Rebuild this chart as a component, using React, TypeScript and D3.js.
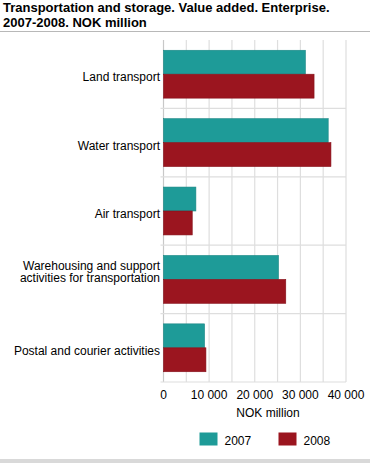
import { useEffect, useRef } from 'react';
import * as d3 from 'd3';

const categories = [
  'Land transport',
  'Water transport',
  'Air transport',
  'Warehousing and support|activities for transportation',
  'Postal and courier activities',
];
const years = ['2007', '2008'];
const values2007 = [31100, 36100, 7100, 25200, 9000];
const values2008 = [33000, 36700, 6300, 26800, 9300];
const tickLabels = [0, 10000, 20000, 30000, 40000];
const gridTicks = [0, 5000, 10000, 15000, 20000, 25000, 30000, 35000, 40000];
const titleLines = ['Transportation and storage. Value added. Enterprise.', '2007-2008. NOK million'];
const axisTitle = 'NOK million';

const colors = ['#1e9b98', '#9b151f'];
const W = 370;
const H = 463;

export default function App() {
  const ref = useRef<SVGSVGElement>(null);

  useEffect(() => {
    const svg = d3.select(ref.current);
    svg.selectAll('*').remove();
    const font = 'Liberation Sans, Arial, sans-serif';

    const left = 163.5;
    const right = 346;
    const top = 40;
    const bottom = 382;

    const x = d3.scaleLinear().domain([0, 40000]).range([left, right]);
    const y0 = d3.scaleBand().domain(categories).range([top, bottom]).paddingInner(0.3).paddingOuter(0.15);
    const step = y0.step();
    const y1 = d3.scaleBand().domain(years).range([0, y0.bandwidth()]);

    // title
    const title = svg.append('text').attr('font-family', font).attr('font-size', 13).attr('font-weight', 'bold').attr('fill', '#000');
    titleLines.forEach((t, i) => {
      title.append('tspan').attr('x', 3).attr('y', 12 + i * 14.5).text(t);
    });
    svg.append('line').attr('x1', 0).attr('x2', W).attr('y1', 31.5).attr('y2', 31.5).attr('stroke', '#b8b8b8').attr('stroke-width', 1);

    // vertical grid
    svg
      .append('g')
      .selectAll('line')
      .data(gridTicks)
      .join('line')
      .attr('x1', (d) => x(d))
      .attr('x2', (d) => x(d))
      .attr('y1', top)
      .attr('y2', bottom)
      .attr('stroke', (d) => (d === 0 ? '#c8c8c8' : '#dedede'))
      .attr('stroke-width', 1.2);

    // category separators
    const seps = d3.range(1, categories.length + 1).map((i) => top + i * step);
    svg
      .append('g')
      .selectAll('line')
      .data(seps)
      .join('line')
      .attr('x1', left - 3)
      .attr('x2', right)
      .attr('y1', (d) => d)
      .attr('y2', (d) => d)
      .attr('stroke', '#dedede')
      .attr('stroke-width', 1.2);

    // bars
    const rows = categories.map((c, i) => ({ c, v: [values2007[i], values2008[i]] }));
    svg
      .append('g')
      .selectAll('g')
      .data(rows)
      .join('g')
      .attr('transform', (d) => `translate(0,${y0(d.c)})`)
      .selectAll('rect')
      .data((d) => years.map((yr, k) => ({ yr, k, value: d.v[k] })))
      .join('rect')
      .attr('x', x(0))
      .attr('y', (d) => y1(d.yr)!)
      .attr('width', (d) => x(d.value) - x(0))
      .attr('height', y1.bandwidth())
      .attr('fill', (d) => colors[d.k])
      .attr('stroke', (d) => d3.color(colors[d.k])!.darker(0.4).toString())
      .attr('stroke-width', 0.6);

    // category labels
    const labels = svg.append('g').attr('font-family', font).attr('font-size', 12).attr('fill', '#000').attr('text-anchor', 'end');
    categories.forEach((c) => {
      const lines = c.split('|');
      const cy = y0(c)! + y0.bandwidth() / 2;
      const base = cy + 7 - (lines.length - 1) * 16.5;
      const t = labels.append('text');
      lines.forEach((ln, i) => {
        t.append('tspan').attr('x', 160).attr('y', base + i * 12.5).text(ln);
      });
    });

    // x tick labels
    svg
      .append('g')
      .attr('font-family', font)
      .attr('font-size', 12)
      .attr('fill', '#000')
      .attr('text-anchor', 'middle')
      .selectAll('text')
      .data(tickLabels)
      .join('text')
      .attr('x', (d) => x(d))
      .attr('y', 399)
      .text((d) => d3.format(',')(d).replace(/,/g, ' '));

    svg
      .append('text')
      .attr('font-family', font)
      .attr('font-size', 12)
      .attr('text-anchor', 'middle')
      .attr('x', 268)
      .attr('y', 417)
      .text(axisTitle);

    // legend
    const legend = svg.append('g').attr('font-family', font).attr('font-size', 12);
    years.forEach((yr, i) => {
      const g = legend.append('g').attr('transform', `translate(${199.5 + i * 79},432.5)`);
      g.append('rect').attr('width', 18).attr('height', 13).attr('fill', colors[i]);
      g.append('text').attr('x', 25).attr('y', 12).text(yr);
    });

    svg.append('rect').attr('x', 0).attr('y', 459).attr('width', W).attr('height', 4).attr('fill', '#d9d9d9');
  }, []);

  return (
    <svg
      ref={ref}
      width={W}
      height={H}
      style={{ position: 'absolute', left: 0, top: 0, background: '#fff' }}
    />
  );
}
